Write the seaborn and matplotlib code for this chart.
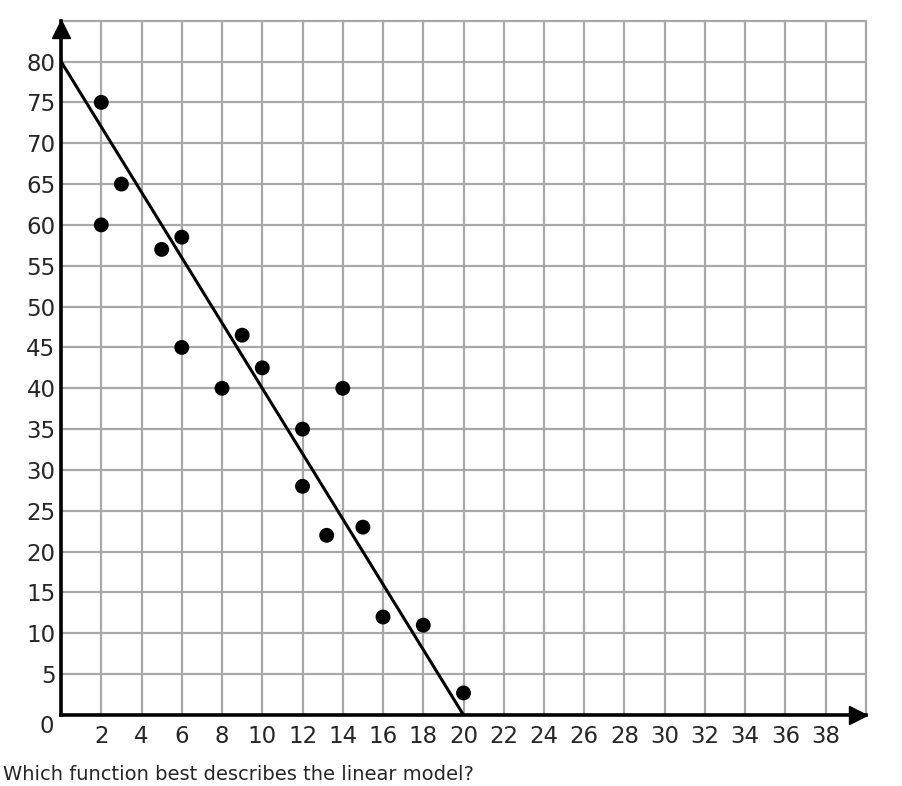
import numpy as np
import matplotlib
matplotlib.use("Agg")
import matplotlib.pyplot as plt
import pandas as pd
import seaborn as sns

# puntos
x_vals = [2, 2, 3, 5, 6, 6, 8, 9, 10, 12, 12, 13.2, 14, 15, 16, 18, 20]
y_vals = [75, 60, 65, 57, 58.5, 45, 40, 46.5, 42.5, 35, 28, 22, 40, 23, 12, 11, 2.7]

# recta del modelo
line_x = [0, 20]
line_y = [80, 0]

x_ticks = list(range(0, 41, 2))
y_ticks = list(range(0, 86, 5))
question = "Which function best describes the linear model?"

df = pd.DataFrame({"x": x_vals, "y": y_vals})
df_line = pd.DataFrame({"x": line_x, "y": line_y})

sns.set_style("white")
plt.rcParams['font.family'] = ['DejaVu Sans']

fig = plt.figure(figsize=(9.03, 7.86), dpi=100)
ax = fig.add_axes([0.0676, 0.0903, 0.959 - 0.0676, 0.9737 - 0.0903])

ax.set_xlim(0, 40)
ax.set_ylim(0, 85)
ax.set_xticks(x_ticks)
ax.set_yticks(y_ticks)
ax.set_xticklabels(["" if t in (0, 40) else str(t) for t in x_ticks])
ax.set_yticklabels(["" if t in (0, 85) else str(t) for t in y_ticks])
ax.tick_params(length=0, labelsize=16.5, colors="#262626")
ax.tick_params(axis="x", pad=7)
ax.tick_params(axis="y", pad=4)

# cuadricula
for t in x_ticks:
    ax.axvline(t, color="#a8a8a8", lw=1.6, zorder=0, clip_on=False)
for t in y_ticks:
    ax.axhline(t, color="#a8a8a8", lw=1.6, zorder=0, clip_on=False)

for s in ["top", "right"]:
    ax.spines[s].set_visible(False)
for s in ["left", "bottom"]:
    ax.spines[s].set_color("black")
    ax.spines[s].set_linewidth(2.6)
    ax.spines[s].set_zorder(3)

sns.lineplot(data=df_line, x="x", y="y", color="black", lw=2.2, ax=ax, zorder=4)
sns.scatterplot(data=df, x="x", y="y", color="black", s=115, edgecolor="none", ax=ax, zorder=5)

# flechas de los ejes
ax.plot([0], [84.0], marker="^", markersize=13, color="black", clip_on=False, zorder=6)
ax.plot([39.6], [0], marker=">", markersize=13, color="black", clip_on=False, zorder=6)

ax.annotate("0", xy=(0, 0), xytext=(-5, -8), textcoords="offset points",
            ha="right", va="center", fontsize=16.5, color="#262626")
ax.set_xlabel("")
ax.set_ylabel("")

fig.text(0.003, 0.003, question, fontsize=14, color="#262626", ha="left", va="bottom")

fig.savefig("out.png", dpi=100)
